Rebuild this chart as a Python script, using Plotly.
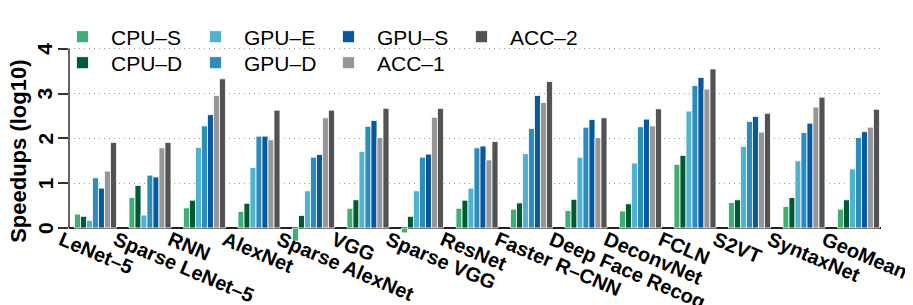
import plotly.graph_objects as go

categories = ["LeNet–5", "Sparse LeNet–5", "RNN", "AlexNet", "Sparse AlexNet", "VGG",
              "Sparse VGG", "ResNet", "Faster R–CNN", "Deep Face Recog", "DeconvNet",
              "FCLN", "S2VT", "SyntaxNet", "GeoMean"]

cpu_s = [0.31, 0.68, 0.45, 0.37, -0.29, 0.44, -0.11, 0.44, 0.42, 0.39, 0.38, 1.42, 0.57, 0.48, 0.42]
cpu_d = [0.26, 0.95, 0.62, 0.55, 0.28, 0.63, 0.26, 0.62, 0.56, 0.64, 0.54, 1.62, 0.63, 0.68, 0.63]
gpu_e = [0.17, 0.29, 1.80, 1.35, 0.83, 1.71, 0.83, 0.89, 1.66, 1.58, 1.45, 2.61, 1.82, 1.50, 1.32]
gpu_d = [1.12, 1.18, 2.28, 2.05, 1.58, 2.27, 1.58, 1.79, 2.22, 2.25, 2.26, 3.18, 2.38, 2.13, 2.02]
gpu_s = [0.89, 1.14, 2.53, 2.05, 1.64, 2.40, 1.65, 1.83, 2.96, 2.42, 2.43, 3.36, 2.49, 2.34, 2.15]
acc_1 = [1.27, 1.79, 2.96, 1.97, 2.46, 2.02, 2.47, 1.52, 2.80, 2.02, 2.28, 3.10, 2.14, 2.70, 2.25]
acc_2 = [1.91, 1.91, 3.33, 2.63, 2.63, 2.67, 2.67, 1.93, 3.27, 2.46, 2.66, 3.55, 2.56, 2.92, 2.65]

series_names = ["CPU–S", "CPU–D", "GPU–E", "GPU–D", "GPU–S", "ACC–1", "ACC–2"]
series_values = [cpu_s, cpu_d, gpu_e, gpu_d, gpu_s, acc_1, acc_2]
colors = ["#41ae76", "#005a32", "#4eb3d3", "#2b8cbe", "#08589e", "#969696", "#525252"]
legend_ids = ["legend", "legend2", "legend", "legend2", "legend", "legend2", "legend"]

y_ticks = [0, 1, 2, 3, 4]
y_tick_labels = ["0", "1", "2", "3", "4"]

FONT = "Liberation Sans, Arial, Helvetica, sans-serif"

# plot area geometry (pixels)
W = 913
H = 305
TOP = 12
BOTTOM = 238
PX_PER_UNIT = 44.8
Y0_PX = 220
y_hi = (Y0_PX - TOP) / PX_PER_UNIT
y_lo = -(BOTTOM - Y0_PX) / PX_PER_UNIT

fig = go.Figure()
for name, vals, col, lg in zip(series_names, series_values, colors, legend_ids):
    fig.add_trace(go.Bar(
        x=categories, y=vals, name=name, legend=lg,
        marker=dict(color=col, line=dict(color="white", width=0.8)),
    ))

legend_common = dict(
    orientation="h", xref="container", yref="container",
    xanchor="left", yanchor="middle",
    font=dict(family=FONT, size=21, color="black"),
    entrywidth=71, entrywidthmode="pixels", itemwidth=47,
    bgcolor="rgba(0,0,0,0)", borderwidth=0, tracegroupgap=0,
)

fig.update_layout(
    width=W, height=H,
    margin=dict(l=61, r=40, t=TOP, b=H - BOTTOM, autoexpand=False),
    paper_bgcolor="white", plot_bgcolor="white",
    barmode="group", bargap=0.23, bargroupgap=0,
    font=dict(family=FONT, color="black"),
    legend=dict(x=46 / W, y=1 - 29 / H, **legend_common),
    legend2=dict(x=46 / W, y=1 - 55 / H, **legend_common),
    xaxis=dict(
        type="category", range=[-0.486, 14.413],
        showgrid=False, showline=False, ticks="",
        tickangle=23, ticklabelshift=-34, ticklabelstandoff=-22,
        tickfont=dict(family=FONT, size=20, color="black", weight="bold"),
    ),
    yaxis=dict(
        range=[y_lo, y_hi], tickvals=y_ticks, showticklabels=False,
        showgrid=True, gridcolor="#9a9a9a", gridwidth=1, griddash="1px,4px",
        zeroline=True, zerolinecolor="#222222", zerolinewidth=1.5,
        showline=False, ticks="outside", ticklen=10, tickwidth=1.5, tickcolor="#333333",
    ),
    showlegend=True,
)

# left axis line spanning 0..4
fig.add_shape(type="line", xref="paper", yref="y", x0=0, x1=0, y0=0, y1=4,
              line=dict(color="#333333", width=1.5))

# rotated (axis-parallel) y tick labels
for v, lab in zip(y_ticks, y_tick_labels):
    fig.add_annotation(
        text=lab, xref="paper", yref="y", x=0, y=v,
        xanchor="center", yanchor="middle", xshift=-24, textangle=-90, showarrow=False,
        font=dict(family=FONT, size=21, color="black", weight="bold"),
    )

fig.add_annotation(
    text="Speedups (log10)", xref="paper", yref="y", x=0, y=1.70,
    xanchor="center", yanchor="middle", xshift=-50, textangle=-90, showarrow=False,
    font=dict(family=FONT, size=22, color="black", weight="bold"),
)

fig.write_html("out.html")
